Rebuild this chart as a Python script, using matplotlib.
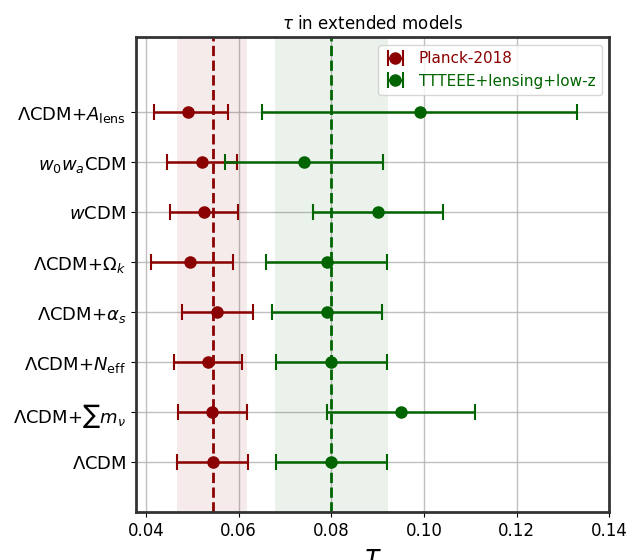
import matplotlib.pyplot as plt
import numpy as np

# Models, bottom to top
models = [
    r"$\Lambda$CDM",
    r"$\Lambda$CDM+$\sum m_\nu$",
    r"$\Lambda$CDM+$N_{\rm eff}$",
    r"$\Lambda$CDM+$\alpha_s$",
    r"$\Lambda$CDM+$\Omega_k$",
    r"$w$CDM",
    r"$w_0w_a$CDM",
    r"$\Lambda$CDM+$A_{\rm lens}$",
]

# Planck-2018: central value, lower and upper bound
planck_mid = [0.0544, 0.0543, 0.0533, 0.0553, 0.0494, 0.0525, 0.0520, 0.0491]
planck_lo = [0.0466, 0.0468, 0.0460, 0.0477, 0.0410, 0.0451, 0.0446, 0.0417]
planck_hi = [0.0620, 0.0617, 0.0607, 0.0630, 0.0588, 0.0598, 0.0597, 0.0576]

# TTTEEE+lensing+low-z
new_mid = [0.0800, 0.0951, 0.0800, 0.0790, 0.0790, 0.0900, 0.0740, 0.0992]
new_lo = [0.0680, 0.0790, 0.0680, 0.0671, 0.0660, 0.0761, 0.0571, 0.0651]
new_hi = [0.0920, 0.1111, 0.0920, 0.0910, 0.0920, 0.1041, 0.0911, 0.1330]

# Reference bands (LCDM)
planck_ref = (0.0544, 0.0466, 0.0618)
new_ref = (0.0800, 0.0679, 0.0923)

red = "darkred"
green = "darkgreen"

fig = plt.figure(figsize=(6.44, 5.6), dpi=100)
ax = fig.add_axes([0.211, 0.0857, 0.735, 0.848])

ypos = np.arange(len(models))

ax.axvspan(planck_ref[1], planck_ref[2], color=red, alpha=0.08, lw=0)
ax.axvspan(new_ref[1], new_ref[2], color=green, alpha=0.08, lw=0)
ax.axvline(planck_ref[0], color=red, ls="--", lw=2)
ax.axvline(new_ref[0], color=green, ls="--", lw=2)

pm = np.array(planck_mid)
nm = np.array(new_mid)
ax.errorbar(pm, ypos, xerr=[pm - np.array(planck_lo), np.array(planck_hi) - pm],
            fmt="o", color=red, ms=8, capsize=6, elinewidth=1.8, capthick=1.5,
            label="Planck-2018", zorder=3)
ax.errorbar(nm, ypos, xerr=[nm - np.array(new_lo), np.array(new_hi) - nm],
            fmt="o", color=green, ms=8, capsize=6, elinewidth=1.8, capthick=1.5,
            label="TTTEEE+lensing+low-z", zorder=3)

ax.set_yticks(ypos)
ax.set_yticklabels(models, fontsize=13)
ax.set_xlim(0.0378, 0.14)
ax.set_ylim(-1.0, 8.5)
ax.set_xticks([0.04, 0.06, 0.08, 0.10, 0.12, 0.14])
ax.set_xticklabels(["0.04", "0.06", "0.08", "0.10", "0.12", "0.14"])
ax.tick_params(axis="x", labelsize=12)
ax.grid(True, color="#b0b0b0", lw=1, alpha=0.8, zorder=0)
ax.set_axisbelow(True)
for s in ax.spines.values():
    s.set_color("#333333")
    s.set_linewidth(2)

ax.set_title(r"$\tau$ in extended models", fontsize=12)
ax.set_xlabel(r"$\tau$", fontsize=20, labelpad=2)

leg = ax.legend(loc="upper right", fontsize=11, handlelength=1.5)
for txt, c in zip(leg.get_texts(), [red, green]):
    txt.set_color(c)

fig.savefig("out.png", dpi=100)
